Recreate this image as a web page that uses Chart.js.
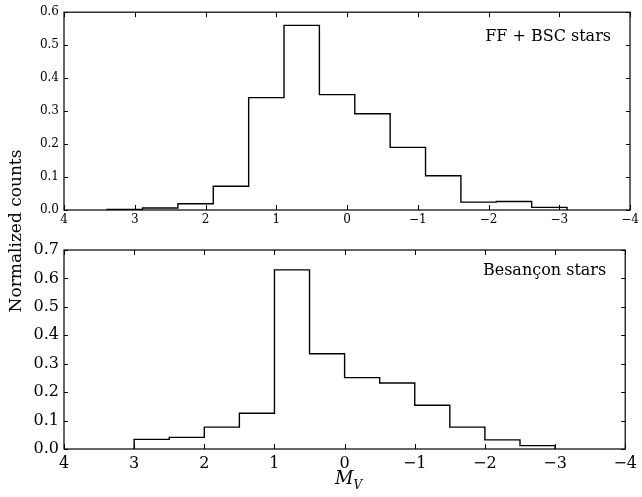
<!DOCTYPE html>
<html>
<head>
<meta charset="utf-8">
<title>Normalized counts</title>
<script src="https://cdn.jsdelivr.net/npm/chart.js@4"></script>
<style>
    body{ margin:0; background:#fff; }
    .wrap{ position:relative; width:642px; height:497px; }
    canvas{ position:absolute; left:0; }
    .ytitle{
        position:absolute; left:-85px; top:221px; width:200px; line-height:22px;
        text-align:center; transform:rotate(-90deg);
        font:17px 'DejaVu Serif', serif; color:#000;
    }
    .xtitle{
        position:absolute; left:335px; top:467px;
        font:italic 18px 'DejaVu Serif', serif; color:#000;
    }
    .xtitle sub{ font-size:12px; }
</style>
</head>
<body>
<div class="wrap">
    <canvas id="top" width="642" height="235" style="top:0"></canvas>
    <canvas id="bottom" width="642" height="262" style="top:235px"></canvas>
    <div class="ytitle">Normalized counts</div>
    <div class="xtitle">M<sub>V</sub></div>
</div>
<script>

    // bin edges (M_V) and normalized counts
    const topEdges  = [3.39, 2.89, 2.39, 1.89, 1.39, 0.89, 0.39, -0.11, -0.61, -1.11, -1.61, -2.11, -2.61, -3.11]
    const topCounts = [0.002, 0.006, 0.019, 0.072, 0.341, 0.560, 0.350, 0.292, 0.190, 0.104, 0.024, 0.026, 0.008]
    const topLabel  = 'FF + BSC stars'

    const botEdges  = [3, 2.5, 2, 1.5, 1, 0.5, 0, -0.5, -1, -1.5, -2, -2.5, -3]
    const botCounts = [0.034, 0.041, 0.077, 0.126, 0.630, 0.335, 0.251, 0.232, 0.154, 0.077, 0.032, 0.012]
    const botLabel  = 'Besançon stars'

    const xTicks = [4, 3, 2, 1, 0, -1, -2, -3, -4]

    // outline of a step histogram
    function stepPoints(edges, counts){
        const pts = [{x: edges[0], y: 0}]
        for(let i=0; i<counts.length; i++){
            pts.push({x: edges[i], y: counts[i]})
            pts.push({x: edges[i+1], y: counts[i]})
        }
        pts.push({x: edges[edges.length-1], y: 0})
        return pts
    }

    const fmtX = v => v < 0 ? '\u2212' + Math.abs(v) : String(v)

    // box round the plot, ticks pointing in on all four sides, panel label
    const framePlugin = {
        id: 'frame',
        afterDraw(chart, args, opts){
            const ctx = chart.ctx
            const a = chart.chartArea
            const x = chart.scales.x
            const y = chart.scales.y
            ctx.save()
            ctx.strokeStyle = '#000'
            ctx.lineWidth = 1.2
            ctx.strokeRect(a.left, a.top, a.right - a.left, a.bottom - a.top)
            ctx.lineWidth = 1
            ctx.beginPath()
            x.ticks.forEach(t => {
                const px = Math.round(x.getPixelForValue(t.value)) + 0.5
                ctx.moveTo(px, a.bottom); ctx.lineTo(px, a.bottom - 5)
                ctx.moveTo(px, a.top); ctx.lineTo(px, a.top + 5)
            })
            y.ticks.forEach(t => {
                const py = Math.round(y.getPixelForValue(t.value)) + 0.5
                ctx.moveTo(a.left, py); ctx.lineTo(a.left + 4, py)
                ctx.moveTo(a.right, py); ctx.lineTo(a.right - 4, py)
            })
            ctx.stroke()
            ctx.fillStyle = '#000'
            ctx.font = "16px 'DejaVu Serif'"
            ctx.textAlign = 'right'
            ctx.textBaseline = 'alphabetic'
            ctx.fillText(opts.text, a.right - 19, a.top + opts.dy)
            ctx.restore()
        }
    }

    function makeChart(id, edges, counts, yMax, label, fontSize, pad, xh, dy){
        return new Chart(document.getElementById(id), {
            type: 'line',
            data: {
                datasets: [{
                    data: stepPoints(edges, counts),
                    borderColor: '#000',
                    borderWidth: 1.4,
                    pointRadius: 0,
                    fill: false,
                    tension: 0
                }]
            },
            options: {
                responsive: false,
                animation: false,
                layout: { padding: { left: 0, right: 12, top: pad, bottom: 0 } },
                plugins: {
                    legend: { display: false },
                    tooltip: { enabled: false },
                    frame: { text: label, dy: dy }
                },
                scales: {
                    x: {
                        type: 'linear',
                        min: -4, max: 4,
                        reverse: true,
                        grid: { display: false, drawTicks: false },
                        border: { display: false },
                        afterBuildTicks: s => { s.ticks = xTicks.map(v => ({value: v})) },
                        afterFit: s => { s.height = xh },
                        ticks: {
                            padding: fontSize > 13 ? 5 : 3,
                            color: '#000',
                            font: { family: 'DejaVu Serif', size: fontSize },
                            callback: v => fmtX(v),
                            maxRotation: 0,
                            autoSkip: false
                        }
                    },
                    y: {
                        min: 0, max: yMax,
                        grid: { display: false, drawTicks: false },
                        border: { display: false },
                        afterFit: s => { s.width = 64 },
                        ticks: {
                            stepSize: 0.1,
                            padding: 5,
                            color: '#000',
                            font: { family: 'DejaVu Serif', size: fontSize },
                            callback: v => v.toFixed(1)
                        }
                    }
                }
            },
            plugins: [framePlugin]
        })
    }

    makeChart('top', topEdges, topCounts, 0.6, topLabel, 12, 10, 25, 29)
    makeChart('bottom', botEdges, botCounts, 0.7, botLabel, 16, 15, 48, 25)

</script>
</body>
</html>
